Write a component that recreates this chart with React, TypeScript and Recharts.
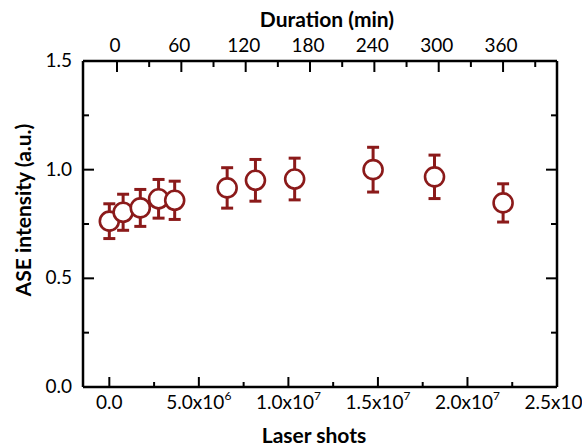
import React from "react";
import { ScatterChart, Scatter, XAxis, YAxis, ErrorBar } from "recharts";

const RED = "#8b1a1a";
const FONT = "Lato, 'Open Sans', sans-serif";

// measured points
const shots = [0, 0.77e6, 1.73e6, 2.75e6, 3.65e6, 6.58e6, 8.16e6, 10.35e6, 14.73e6, 18.16e6, 21.99e6];
const intensity = [0.763, 0.804, 0.824, 0.866, 0.859, 0.916, 0.951, 0.957, 1.0, 0.967, 0.847];
const errors = [0.08, 0.083, 0.085, 0.089, 0.088, 0.093, 0.096, 0.096, 0.103, 0.1, 0.088];

// bottom axis (laser shots)
const shotMajor = [0, 5e6, 1e7, 1.5e7, 2e7, 2.5e7];
const shotMinor = [2.5e6, 7.5e6, 1.25e7, 1.75e7, 2.25e7];
const shotText = ["0.0", "5.0x10", "1.0x10", "1.5x10", "2.0x10", "2.5x10"];
const shotExp = ["", "6", "7", "7", "7", "7"];

// top axis (duration)
const durMajor = [0, 60, 120, 180, 240, 300, 360];
const durMinor = [30, 90, 150, 210, 270, 330, 390];
const durDomain = [-31.7, 410.3];

// y axis
const yMajor = [0, 0.5, 1.0, 1.5];
const yMinor = [0.25, 0.75, 1.25];
const yText = ["0.0", "0.5", "1.0", "1.5"];

const data = shots.map((s, i) => ({ x: s, y: intensity[i], err: errors[i] }));
// invisible anchor so the top axis gets drawn
const durAnchor = durDomain.map((d) => ({ d, y: 0 }));

const BottomTick = ({ x, y, payload }: any) => {
  const i = shotMajor.indexOf(payload.value);
  const major = i >= 0;
  return (
    <g>
      <line x1={x} x2={x} y1={y} y2={y - (major ? 10 : 5)} stroke="#000" strokeWidth={2} />
      {major && (
        <text x={x} y={y + 22} textAnchor="middle" fontSize={19} fontFamily={FONT} fill="#000">
          {shotText[i]}
          {shotExp[i] && (
            <tspan dy={-9} fontSize={12}>
              {shotExp[i]}
            </tspan>
          )}
        </text>
      )}
    </g>
  );
};

const TopTick = ({ x, y, payload }: any) => {
  const major = durMajor.indexOf(payload.value) >= 0;
  return (
    <g>
      <line x1={x} x2={x} y1={y} y2={y + (major ? 11 : 6)} stroke="#000" strokeWidth={2} />
      {major && (
        <text x={x - 2} y={y - 9} textAnchor="middle" fontSize={19} fontFamily={FONT} fill="#000">
          {payload.value}
        </text>
      )}
    </g>
  );
};

const LeftTick = ({ x, y, payload }: any) => {
  const i = yMajor.indexOf(payload.value);
  const major = i >= 0;
  return (
    <g>
      <line x1={x} x2={x + (major ? 11 : 6)} y1={y} y2={y} stroke="#000" strokeWidth={2} />
      {major && (
        <text x={x - 11} y={y + 6} textAnchor="end" fontSize={19} fontFamily={FONT} fill="#000">
          {yText[i]}
        </text>
      )}
    </g>
  );
};

const RightTick = ({ x, y, payload }: any) => {
  const major = yMajor.indexOf(payload.value) >= 0;
  return <line x1={x} x2={x - (major ? 11 : 6)} y1={y} y2={y} stroke="#000" strokeWidth={2} />;
};

const Ring = (props: any) => (
  <circle cx={props.cx} cy={props.cy} r={9.5} fill="#fff" stroke={RED} strokeWidth={2.6} />
);

const Nothing = () => <g />;

const axisLine = { stroke: "#000", strokeWidth: 2.5 };

export default function App() {
  return (
    <div style={{ position: "absolute", left: 0, top: 0, width: 582, height: 446, background: "#fff" }}>
      <ScatterChart width={582} height={446} margin={{ top: 0, right: 0, bottom: 0, left: 0 }}>
        <XAxis
          xAxisId="shots"
          dataKey="x"
          type="number"
          orientation="bottom"
          domain={[-1.47e6, 2.5e7]}
          allowDataOverflow
          ticks={[...shotMajor, ...shotMinor].sort((a, b) => a - b)}
          interval={0}
          height={59}
          tickSize={0}
          tickMargin={0}
          tickLine={false}
          axisLine={axisLine}
          tick={<BottomTick />}
        />
        <XAxis
          xAxisId="dur"
          dataKey="d"
          type="number"
          orientation="top"
          domain={durDomain}
          allowDataOverflow
          ticks={[...durMajor, ...durMinor].sort((a, b) => a - b)}
          interval={0}
          height={61}
          tickSize={0}
          tickMargin={0}
          tickLine={false}
          axisLine={axisLine}
          tick={<TopTick />}
        />
        <YAxis
          yAxisId="left"
          dataKey="y"
          type="number"
          domain={[0, 1.5]}
          allowDataOverflow
          ticks={[...yMajor, ...yMinor].sort((a, b) => a - b)}
          interval={0}
          width={83}
          tickSize={0}
          tickMargin={0}
          tickLine={false}
          axisLine={axisLine}
          tick={<LeftTick />}
        />
        <YAxis
          yAxisId="right"
          dataKey="y"
          orientation="right"
          type="number"
          domain={[0, 1.5]}
          allowDataOverflow
          ticks={[...yMajor, ...yMinor].sort((a, b) => a - b)}
          interval={0}
          width={25}
          tickSize={0}
          tickMargin={0}
          tickLine={false}
          axisLine={axisLine}
          tick={<RightTick />}
        />
        <Scatter
          data={durAnchor}
          xAxisId="dur"
          yAxisId="right"
          dataKey="y"
          shape={<Nothing />}
          isAnimationActive={false}
        />
        <Scatter
          data={data}
          xAxisId="shots"
          yAxisId="left"
          dataKey="y"
          shape={<Ring />}
          isAnimationActive={false}
        >
          <ErrorBar dataKey="err" direction="y" width={6} strokeWidth={3} stroke={RED} />
        </Scatter>
      </ScatterChart>
      <svg
        width={582}
        height={446}
        style={{ position: "absolute", left: 0, top: 0, pointerEvents: "none" }}
      >
        <text x={327} y={27} textAnchor="middle" fontSize={21} fontWeight="bold" fontFamily={FONT} fill="#000">
          Duration (min)
        </text>
        <text x={314} y={443} textAnchor="middle" fontSize={21} fontWeight="bold" fontFamily={FONT} fill="#000">
          Laser shots
        </text>
        <text
          x={22}
          y={210}
          textAnchor="middle"
          dominantBaseline="central"
          transform="rotate(-90, 22, 210)"
          fontSize={21}
          fontWeight="bold"
          fontFamily={FONT}
          fill="#000"
        >
          ASE intensity (a.u.)
        </text>
      </svg>
    </div>
  );
}
